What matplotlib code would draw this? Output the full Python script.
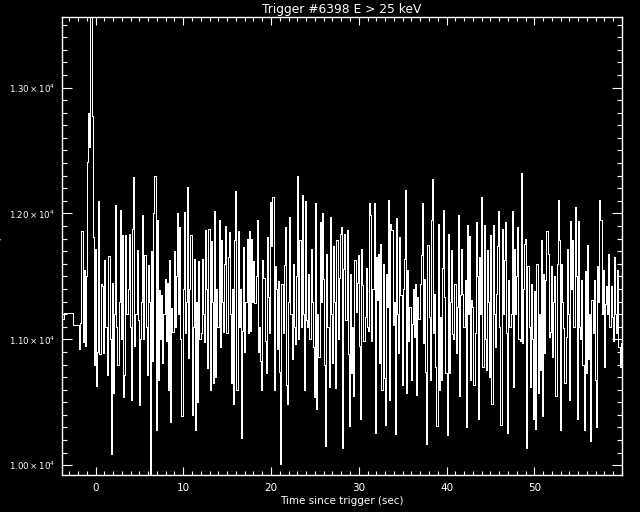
import numpy as np
import matplotlib
matplotlib.use("Agg")
import matplotlib.pyplot as plt
from matplotlib.ticker import MultipleLocator, FixedLocator

# ---- data ----
title_text = "Trigger #6398 E > 25 keV"
xlabel_text = "Time since trigger (sec)"
ylabel_text = "Counts/sec"

# coarse pre-trigger bins (edges in s, rates in counts/s)
pre_edges = [-3.82, -3.584, -2.560, -1.856]
pre_counts = [11160, 11210, 11110]

# fine bins
fine_start = -1.856
fine_width = 0.128
fine_counts = [
    10920, 11130, 11860, 10980, 11550, 10950, 11500, 12410, 12800, 12530,
    13900, 12770, 11810, 10800, 11720, 10630, 10900, 12100, 10880, 11440,
    11420, 10890, 11630, 11100, 11100, 10720, 11660, 11000, 10090, 11450,
    10570, 11200, 12070, 11100, 10800, 11300, 12030, 11000, 11830, 10540,
    10720, 11830, 11200, 11400, 11840, 11100, 10520, 11880, 12290, 10950,
    11200, 11710, 11150, 10480, 11000, 11300, 11990, 11000, 11670, 11100,
    10720, 11590, 11300, 9900, 11700, 10830, 12000, 12300, 10280, 11950,
    10680, 11390, 11000, 11350, 10810, 11200, 11480, 10990, 11450, 10600,
    11630, 10340, 11250, 11060, 11700, 11100, 11500, 12000, 11200, 11890,
    11000, 10390, 11400, 12010, 11050, 11300, 12210, 10850, 11400, 11830,
    10400, 11100, 11640, 10280, 11300, 10500, 11620, 11000, 11050, 11640,
    11200, 10980, 11870, 11400, 10770, 11880, 10600, 11780, 11300, 10650,
    12020, 10700, 11400, 11100, 11950, 10940, 11790, 11300, 11060, 11600,
    11900, 11050, 11650, 11850, 11200, 10650, 11400, 10490, 11790, 12180,
    10600, 11860, 11100, 11400, 10220, 11070, 11730, 10900, 11300, 11800,
    11050, 11860, 11070, 11800, 11300, 11620, 11290, 11500, 11950, 10900,
    11100, 10830, 10600, 11630, 11490, 10990, 10730, 11810, 11340, 11050,
    12090, 11740, 12130, 10600, 11580, 11400, 10920, 11460, 10740, 10010,
    11440, 11050, 11590, 11890, 10640, 10490, 11300, 11970, 11200, 10840,
    11600, 11100, 10960, 11500, 12300, 11000, 11790, 11100, 12150, 11200,
    10600, 12100, 11150, 11100, 11520, 11000, 11720, 11300, 10940, 10540,
    12080, 10450, 11200, 10860, 11930, 11300, 12000, 11480, 10800, 10150,
    11680, 11100, 10620, 11970, 11200, 10810, 11740, 11300, 10610, 11790,
    11000, 11490, 11840, 11890, 10140, 11560, 11840, 11150, 11870, 10880,
    10310, 11520, 10730, 11100, 10550, 11630, 11220, 11450, 11670, 10950,
    10370, 11720, 11430, 10990, 11180, 11570, 11100, 11070, 12080, 11990,
    10990, 11400, 12080, 10260, 11650, 11310, 11680, 10810, 11760, 10600,
    11600, 10690, 10320, 11520, 11260, 12110, 10520, 11920, 11870, 11110,
    11300, 10250, 11960, 11200, 10890, 11810, 11350, 10640, 11400, 11640,
    12190, 10570, 11550, 10990, 11260, 10680, 11120, 11400, 11020, 11440,
    10560, 11340, 11160, 11440, 11670, 12080, 10970, 11480, 10740, 10170,
    11750, 11180, 10680, 11950, 12270, 11050, 11360, 10780, 10310, 11920,
    10600, 11180, 10680, 11570, 12030, 11340, 10730, 10240, 11840, 10730,
    11300, 11710, 11040, 11000, 11440, 10890, 11260, 11990, 10550, 11350,
    11720, 11360, 11100, 11470, 10300, 11910, 11200, 11820, 10680, 11310,
    11260, 10640, 11050, 11930, 11500, 10370, 11650, 11200, 12130, 10780,
    11910, 11000, 10760, 11710, 11300, 10700, 11830, 10490, 11910, 11200,
    10940, 11360, 11740, 12020, 11100, 10320, 11880, 11200, 11630, 11930,
    11050, 10260, 11470, 11100, 11200, 12020, 10620, 11720, 11200, 11500,
    11890, 11000, 10990, 12320, 10970, 11400, 11760, 11800, 10140, 11580,
    11100, 10620, 11440, 11000, 10370, 11380, 10290, 11600, 10570, 11200,
    10760, 11790, 10390, 11520, 10890, 11470, 11860, 11680, 11020, 11060,
    11580, 10860, 11300, 11500, 10550, 11600, 12110, 11790, 10280, 11600,
    11300, 11090, 10650, 11020, 11720, 11200, 10520, 11940, 11400, 11790,
    11100, 12050, 11500, 10370, 11940, 11100, 11000, 11470, 10800, 10280,
    11540, 10730, 11750, 10840, 11200, 10190, 11310, 11050, 11470, 10680,
    10300, 11580, 11300, 12110, 11950, 11200, 11550, 10780, 11280, 11420,
    11200, 11680, 11100, 11420, 11180, 10990, 11650, 11200, 11050, 11550,
    10940, 10780, 10970,
]

x_limits = (-3.82, 60.03)
y_limits = (9925, 13560)
y_ticks = [10000, 11000, 12000, 13000]
y_ticklabels = [r"$1.00\times10^{4}$", r"$1.10\times10^{4}$",
                r"$1.20\times10^{4}$", r"$1.30\times10^{4}$"]
x_ticks = [0, 10, 20, 30, 40, 50]

# ---- build arrays ----
fine_edges = fine_start + fine_width * np.arange(len(fine_counts) + 1)
edges = np.concatenate([pre_edges[:-1], fine_edges])
counts = np.concatenate([pre_counts, fine_counts])

# ---- figure ----
fig = plt.figure(figsize=(6.4, 5.12), dpi=100, facecolor="black")
ax = fig.add_axes([62 / 640, 1 - 474.7 / 512, (622.3 - 62) / 640, (474.7 - 17) / 512])
ax.set_facecolor("black")

ax.stairs(counts, edges, color="white", linewidth=0.72, baseline=None,
          antialiased=False)

ax.set_xlim(*x_limits)
ax.set_ylim(*y_limits)

ax.xaxis.set_major_locator(FixedLocator(x_ticks))
ax.xaxis.set_minor_locator(MultipleLocator(1))
ax.yaxis.set_major_locator(FixedLocator(y_ticks))
ax.yaxis.set_minor_locator(MultipleLocator(100))
ax.set_yticklabels(y_ticklabels)

for s in ax.spines.values():
    s.set_color("white")
    s.set_linewidth(1.0)

ax.tick_params(axis="both", which="both", direction="in", colors="white",
               top=True, right=True, width=0.8)
ax.tick_params(axis="x", which="major", length=6, pad=6, labelsize=7.5)
ax.tick_params(axis="x", which="minor", length=3)
ax.tick_params(axis="y", which="major", length=7.5, pad=5, labelsize=6.2)
ax.tick_params(axis="y", which="minor", length=3.5)

ax.set_title(title_text, color="white", fontsize=8.8, pad=3)
ax.set_xlabel(xlabel_text, color="white", fontsize=7.5, labelpad=2)
fig.text(-0.012, 0.52, ylabel_text, color="white", fontsize=7.5,
         rotation=90, ha="left", va="center")

fig.savefig("out.png", dpi=100, facecolor="black")
